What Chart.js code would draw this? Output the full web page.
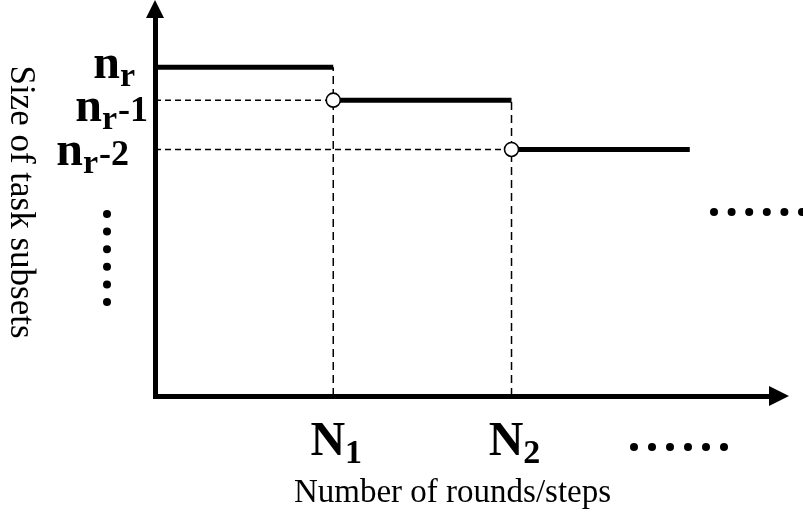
<!DOCTYPE html>
<html>
<head>
<meta charset="utf-8">
<script src="https://cdn.jsdelivr.net/npm/chart.js@4"></script>
<style>
  html, body { margin: 0; padding: 0; background: #fff; }
  #wrap { width: 803px; height: 514px; }
</style>
</head>
<body>
<div id="wrap"><canvas id="stepChart" width="803" height="514"></canvas></div>
<script>
// step breakpoints on the round axis: 0, N1, N2, end of the third step
const roundBreaks = [0, 1, 2, 3];
// subset size at each step: n_r, n_r-1, n_r-2 (sketch, not to scale)
const subsetSizes = [10, 9, 7.5];
const sizeTickLabels = [['n', 'r', ''], ['n', 'r', '-1'], ['n', 'r', '-2']];
const roundTickValues = [1, 2];
const roundTickLabels = [['N', '1'], ['N', '2']];
const xTitle = 'Number of rounds/steps';
const yTitle = 'Size of task subsets';
const xMax = 3.45;
const yMax = 11.5;

const serif = '"Liberation Serif", "Times New Roman", serif';

// solid steps
const stepSets = subsetSizes.map((size, i) => ({
    data: [{ x: roundBreaks[i], y: size }, { x: roundBreaks[i + 1], y: size }],
    borderColor: '#000',
    borderWidth: 5,
    pointRadius: 0,
    clip: false,
    order: 1
}));

// dashed guide lines from the axes to each jump
const guideSets = [];
for (let i = 1; i < subsetSizes.length; i++) {
    guideSets.push({
        data: [{ x: 0, y: subsetSizes[i] }, { x: roundBreaks[i], y: subsetSizes[i] }],
        borderColor: '#000',
        borderWidth: 1.5,
        borderDash: [6, 4],
        pointRadius: 0,
        order: 2
    });
    guideSets.push({
        data: [{ x: roundBreaks[i], y: 0 }, { x: roundBreaks[i], y: subsetSizes[i - 1] }],
        borderColor: '#000',
        borderWidth: 1.5,
        borderDash: [8, 5],
        pointRadius: 0,
        order: 2
    });
}

// open circles where each lower step starts
const openSet = {
    type: 'scatter',
    data: subsetSizes.slice(1).map((size, i) => ({ x: roundBreaks[i + 1], y: size })),
    pointStyle: 'circle',
    pointRadius: 7,
    pointBackgroundColor: '#fff',
    pointBorderColor: '#000',
    pointBorderWidth: 1.6,
    showLine: false,
    clip: false,
    order: 0
};

function drawSubText(ctx, parts, x, baseline, align, sizes) {
    const [main, sub, rest] = parts;
    const mainFont = `bold ${sizes[0]}px ${serif}`;
    const subFont = `bold ${sizes[1]}px ${serif}`;
    const restFont = `bold ${sizes[2]}px ${serif}`;
    ctx.font = mainFont;
    const wMain = ctx.measureText(main).width;
    ctx.font = subFont;
    const wSub = ctx.measureText(sub).width;
    ctx.font = restFont;
    const wRest = rest ? ctx.measureText(rest).width : 0;
    const total = wMain + wSub + wRest;
    let start = x;
    if (align === 'right') start = x - total;
    if (align === 'center') start = x - total / 2;
    ctx.textAlign = 'left';
    ctx.textBaseline = 'alphabetic';
    ctx.font = mainFont;
    ctx.fillText(main, start, baseline);
    ctx.font = subFont;
    ctx.fillText(sub, start + wMain, baseline + 8);
    if (rest) {
        ctx.font = restFont;
        ctx.fillText(rest, start + wMain + wSub + 1, baseline);
    }
}

function dotRow(ctx, x0, y0, dx, dy, n, r) {
    for (let i = 0; i < n; i++) {
        ctx.beginPath();
        ctx.arc(x0 + dx * i, y0 + dy * i, r, 0, Math.PI * 2);
        ctx.fill();
    }
}

const sketchPlugin = {
    id: 'sketch',
    afterDraw(chart) {
        const { ctx, chartArea: area, scales: { x, y } } = chart;
        ctx.save();
        ctx.fillStyle = '#000';

        // arrow heads
        ctx.beginPath();
        ctx.moveTo(area.left, area.top - 18);
        ctx.lineTo(area.left - 9, area.top);
        ctx.lineTo(area.left + 9, area.top);
        ctx.closePath();
        ctx.fill();
        ctx.beginPath();
        ctx.moveTo(area.right + 19, area.bottom);
        ctx.lineTo(area.right - 1, area.bottom - 10);
        ctx.lineTo(area.right - 1, area.bottom + 10);
        ctx.closePath();
        ctx.fill();

        // y tick labels (n_r ...), nudged like the drawing
        const yNudge = [[-20, 11], [-8, 21], [-27, 16]];
        sizeTickLabels.forEach((parts, i) => {
            const py = y.getPixelForValue(subsetSizes[i]);
            drawSubText(ctx, parts, area.left + yNudge[i][0], py + yNudge[i][1], 'right', [48, 34, 36]);
        });

        // x tick labels (N_1, N_2)
        roundTickLabels.forEach((parts, i) => {
            const px = x.getPixelForValue(roundTickValues[i]);
            drawSubText(ctx, parts, px + 3, area.bottom + 59, 'center', [48, 34, 34]);
        });

        // axis titles
        ctx.font = `33px ${serif}`;
        ctx.textAlign = 'center';
        ctx.textBaseline = 'alphabetic';
        ctx.fillText(xTitle, (area.left + area.right) / 2 - 10, area.bottom + 106);

        ctx.save();
        ctx.font = `35px ${serif}`;
        ctx.translate(area.left - 135, (area.top + area.bottom) / 2 - 5);
        ctx.rotate(Math.PI / 2);
        ctx.textBaseline = 'middle';
        ctx.fillText(yTitle, 0, 0);
        ctx.restore();

        // ellipsis dots
        dotRow(ctx, area.left - 48, 214, 0, 17.6, 6, 4);
        dotRow(ctx, 714, 212, 17.6, 0, 6, 4);
        dotRow(ctx, 634, area.bottom + 51, 18, 0, 6, 4);

        ctx.restore();
    }
};

const ctx = document.getElementById('stepChart').getContext('2d');
new Chart(ctx, {
    type: 'line',
    data: {
        datasets: [openSet, ...stepSets, ...guideSets]
    },
    options: {
        responsive: false,
        animation: false,
        devicePixelRatio: 1,
        layout: {
            padding: { left: 155, right: 33, top: 18, bottom: 118 }
        },
        scales: {
            x: {
                type: 'linear',
                min: 0,
                max: xMax,
                grid: { display: false, drawTicks: false },
                ticks: { display: false },
                border: { display: true, width: 5, color: '#000', z: 1 }
            },
            y: {
                type: 'linear',
                min: 0,
                max: yMax,
                grid: { display: false, drawTicks: false },
                ticks: { display: false },
                border: { display: true, width: 5, color: '#000', z: 1 }
            }
        },
        plugins: {
            legend: { display: false },
            tooltip: { enabled: false }
        }
    },
    plugins: [sketchPlugin]
});
</script>
</body>
</html>
